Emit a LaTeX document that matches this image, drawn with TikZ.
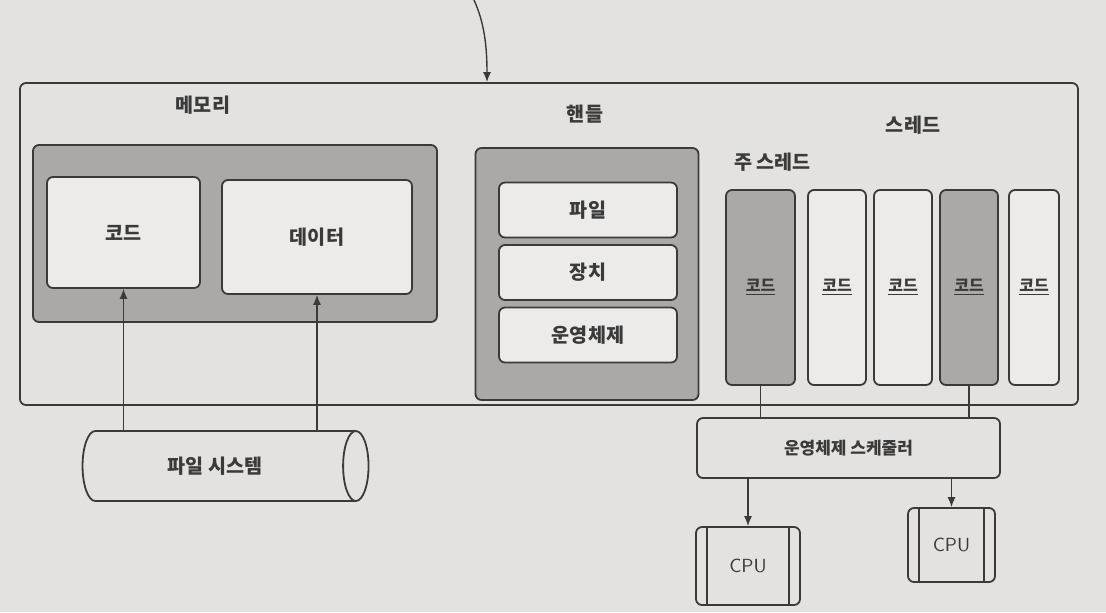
\documentclass[tikz,border=0pt]{standalone}
\usepackage{fontspec}
\setmainfont{Noto Sans CJK KR}
\usetikzlibrary{positioning,shapes.geometric,arrows.meta}
\usepackage{xcolor}

\definecolor{paper}{HTML}{E4E2E0}
\definecolor{boxgrey}{HTML}{ABA9A8}
\definecolor{boxwhite}{HTML}{EDEBE9}
\definecolor{ink}{HTML}{3A3A3A}

\tikzset{
  frame/.style={draw=ink,line width=0.9pt,rounded corners=3pt},
  greybox/.style={frame,fill=boxgrey},
  whitebox/.style={frame,fill=boxwhite},
  thread/.style={frame,minimum height=97.5pt,font=\bfseries\fontsize{8}{9}\selectfont},
  cpu/.style={frame,fill=paper,font=\sffamily\fontsize{9.5}{11}\selectfont},
  link/.style={draw=ink,line width=0.7pt},
  flow/.style={link,-{Latex[length=5pt,width=4pt]}}
}

\begin{document}
\begin{tikzpicture}[x=0.5pt,y=-0.5pt,font=\bfseries\fontsize{9.8}{11}\selectfont,text=ink]
  \fill[paper] (0,0) rectangle (1106,612);
  \useasboundingbox (0,0) rectangle (1106,612);

  % process
  \node[frame,minimum width=529pt,minimum height=161pt] (process) at (549,244) {};
  \coordinate (incoming) at (474,0);
  \draw[flow] (incoming) .. controls (484,22) and (487,45) .. (process.north -| 487,0);

  % memory
  \node (memory title) at (203,105) {메모리};
  \node[greybox,minimum width=202pt,minimum height=88.5pt] (memory) at (235,233.5) {};
  \node[whitebox,minimum width=76.5pt,minimum height=55.5pt] (code) at (123.5,232.5) {코드};
  \node[whitebox,minimum width=95pt,minimum height=57pt] (data) at (317,237) {데이터};

  % handles
  \node (handle title) at (585,114) {핸들};
  \node[greybox,minimum width=111.5pt,minimum height=126pt] (handles) at (587,274) {};
  \node[whitebox,minimum width=89pt,minimum height=27.5pt] (file) at (588,210) {파일};
  \node[whitebox,minimum width=89pt,minimum height=27.5pt] (device) at (588,272.5) {장치};
  \node[whitebox,minimum width=89pt,minimum height=27.5pt] (os) at (588,335) {운영체제};

  % threads
  \node (thread title) at (913,125) {스레드};
  \node[anchor=west] (main title) at (727,162) {주 스레드};
  \node[thread,greybox,minimum width=34.5pt] (thread 1) at (760.5,287.5) {\underline{코드}};
  \node[thread,whitebox,minimum width=29pt] (thread 2) at (837,287.5) {\underline{코드}};
  \node[thread,whitebox,minimum width=29pt] (thread 3) at (903,287.5) {\underline{코드}};
  \node[thread,greybox,minimum width=29pt] (thread 4) at (969,287.5) {\underline{코드}};
  \node[thread,whitebox,minimum width=25pt] (thread 5) at (1034,287.5) {\underline{코드}};

  % file system
  \node[cylinder,draw=ink,line width=0.9pt,fill=paper,shape aspect=0.8,
        minimum width=35pt,minimum height=143pt] (file system) at (215,466) {파일 시스템};
  \draw[flow] (code.south |- file system.north) -- (code.south);
  \draw[flow] (data.south |- file system.north) -- (data.south);

  % scheduler and cpus
  \node[whitebox,fill=paper,minimum width=151.5pt,minimum height=30pt,
        font=\bfseries\fontsize{8.5}{10}\selectfont] (scheduler) at (848.5,448) {운영체제 스케줄러};
  \draw[link] (thread 1.south) -- (thread 1.south |- scheduler.north);
  \draw[link] (thread 4.south) -- (thread 4.south |- scheduler.north);

  \node[cpu,minimum width=52pt,minimum height=39pt] (cpu 1) at (748,566) {CPU};
  \node[cpu,minimum width=43.5pt,minimum height=37pt] (cpu 2) at (951.5,545) {CPU};
  \foreach \c in {cpu 1,cpu 2} {
    \draw[link] ([xshift=6pt]\c.north west) -- ([xshift=6pt]\c.south west);
    \draw[link] ([xshift=-6pt]\c.north east) -- ([xshift=-6pt]\c.south east);
  }
  \draw[flow] (cpu 1.north |- scheduler.south) -- (cpu 1.north);
  \draw[flow] (cpu 2.north |- scheduler.south) -- (cpu 2.north);
\end{tikzpicture}
\end{document}
